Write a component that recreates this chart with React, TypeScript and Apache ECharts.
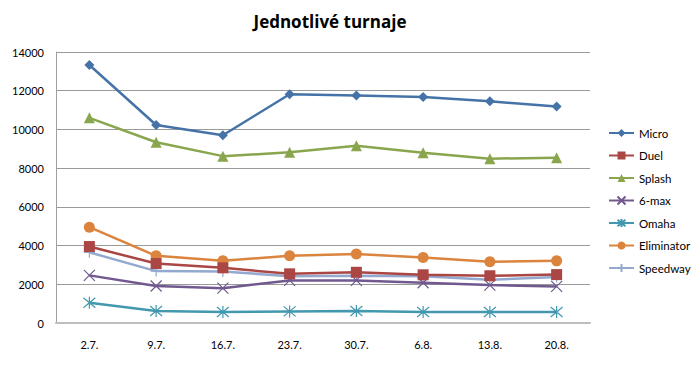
import React, { useEffect, useRef } from "react";
import * as echarts from "echarts";

const categories = ["2.7.", "9.7.", "16.7.", "23.7.", "30.7.", "6.8.", "13.8.", "20.8."];
const micro = [13330, 10230, 9700, 11820, 11750, 11680, 11450, 11180];
const duel = [3950, 3070, 2850, 2540, 2620, 2490, 2440, 2500];
const splash = [10600, 9340, 8620, 8815, 9160, 8800, 8490, 8540];
const sixMax = [2460, 1910, 1800, 2200, 2200, 2080, 1960, 1890];
const omaha = [1050, 620, 570, 600, 620, 570, 570, 570];
const eliminator = [4950, 3470, 3210, 3470, 3570, 3380, 3160, 3210];
const speedway = [3650, 2680, 2660, 2420, 2440, 2420, 2240, 2370];

const seriesNames = ["Micro", "Duel", "Splash", "6-max", "Omaha", "Eliminator", "Speedway"];
const colors = ["#4572A7", "#AA4643", "#89A54E", "#71588F", "#4198AF", "#DB843D", "#93A9CF"];

const X_PATH = "path://M0,0L10,10M10,0L0,10";
const AST_PATH = "path://M0,0L10,10M10,0L0,10M5,-1L5,11";
const PLUS_PATH = "path://M5,0L5,10M0,5L10,5";

export default function App() {
  const ref = useRef<HTMLDivElement>(null);
  useEffect(() => {
    if (!ref.current) return;
    const chart = echarts.init(ref.current, undefined, { renderer: "svg" });
    const data = [micro, duel, splash, sixMax, omaha, eliminator, speedway];
    const symbols = ["diamond", "rect", "triangle", X_PATH, AST_PATH, "circle", PLUS_PATH];
    const sizes = [10, 11, 11, 11, 12, 11, 11];
    const stroked = [false, false, false, true, true, false, true];
    chart.setOption({
      animation: false,
      textStyle: { fontFamily: "Lato, sans-serif" },
      title: {
        text: "Jednotlivé turnaje",
        left: 325,
        textAlign: "center",
        top: 8,
        textStyle: { fontSize: 17, fontWeight: "bold", color: "#000", fontFamily: "Open Sans, sans-serif" },
      },
      color: colors,
      legend: {
        orient: "vertical",
        left: 608,
        top: 127,
        padding: 0,
        itemGap: 10.5,
        itemWidth: 25,
        itemHeight: 10,
        textStyle: { fontSize: 11.5, color: "#000", overflow: "none" },
        data: seriesNames,
      },
      grid: { left: 56, right: 110, top: 52, bottom: 53 },
      xAxis: {
        type: "category",
        data: categories,
        boundaryGap: true,
        axisLine: { lineStyle: { color: "#bdbdbd", width: 2 } },
        axisTick: { show: false },
        axisLabel: { color: "#000", fontSize: 11, margin: 16 },
      },
      yAxis: {
        type: "value",
        min: 0,
        max: 14000,
        interval: 2000,
        axisLine: { show: true, lineStyle: { color: "#a0a0a0", width: 1 } },
        axisTick: { show: false },
        axisLabel: { color: "#000", fontSize: 11, margin: 12, formatter: (v: number) => String(v) },
        splitLine: { lineStyle: { color: "#9a9a9a", width: 1 } },
      },
      series: seriesNames.map((name, i) => ({
        name,
        type: "line",
        data: data[i],
        symbol: symbols[i],
        symbolSize: sizes[i],
        showSymbol: true,
        lineStyle: { width: 2.5, color: colors[i] },
        itemStyle: stroked[i]
          ? { color: colors[i], borderColor: colors[i], borderWidth: 1.2 }
          : { color: colors[i], borderWidth: 0 },
        z: 10 - i,
      })),
    });
    return () => chart.dispose();
  }, []);
  return <div ref={ref} style={{ width: 700, height: 376, margin: -8 }} />;
}
